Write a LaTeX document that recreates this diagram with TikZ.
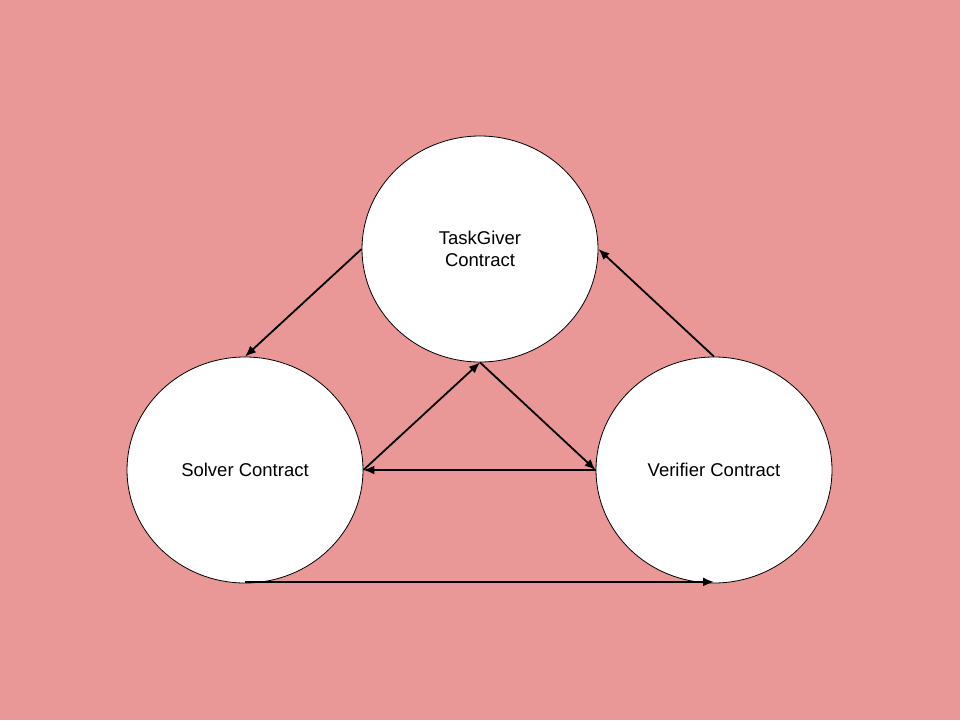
\documentclass[tikz,border=0pt]{standalone}
\usepackage{fontspec}
\setmainfont{Liberation Sans}
\usetikzlibrary{shapes.geometric,arrows.meta}
\definecolor{slidebg}{HTML}{E99797}

\begin{document}
\begin{tikzpicture}[x=1pt,y=-1pt,
        contract/.style={ellipse,draw=black,fill=white,line width=0.8pt,
            minimum width=236pt,minimum height=226pt,inner sep=0pt,
            align=center,font=\fontsize{18.5}{22}\selectfont}]
        \fill[slidebg] (0,0) rectangle (960,720);
        \node[contract] at (480,249) (taskgiver) {TaskGiver\\Contract};
        \node[contract] at (245,470) (solver) {Solver Contract};
        \node[contract] at (714,470) (verifier) {Verifier Contract};
        \path[->, line width=1.8pt, >={Latex[length=11pt,width=9pt]}]
        (taskgiver.west) edge (solver.north)
        (verifier.north) edge (taskgiver.east)
        (solver.east) edge (taskgiver.south)
        (taskgiver.south) edge (verifier.west)
        (verifier.west) edge (solver.east)
        ([yshift=1.5pt]solver.south) edge ([yshift=1.5pt]verifier.south)
        ;
    \end{tikzpicture}
\end{document}
